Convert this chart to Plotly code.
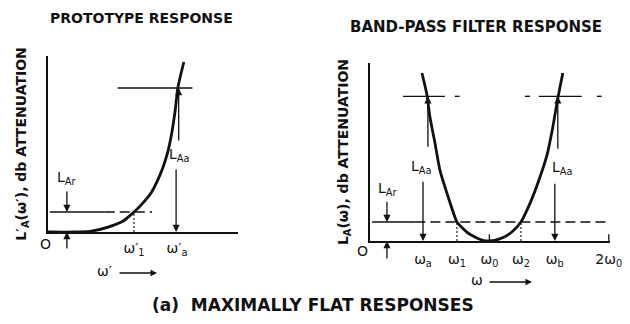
import plotly.graph_objects as go

# ---------------- data ----------------
# Prototype (low-pass) response: omega' normalised so omega'_1 = 1, attenuation in dB
proto_w = [0.0, 0.31, 0.49, 0.69, 0.87, 1.00, 1.10, 1.20, 1.28, 1.34, 1.395, 1.44, 1.48, 1.51, 1.58]
proto_L = [0.0, 0.0, 0.1, 0.7, 1.6, 3.0, 4.3, 5.9, 7.9, 9.8, 12.1, 14.9, 18.3, 21.6, 25.5]
proto_Lar = 3.0
proto_Laa = 21.6

# Band-pass response: omega normalised so omega_0 = 1
bp_w = [0.435, 0.477, 0.502, 0.544, 0.586, 0.644, 0.711, 0.728, 0.820, 0.937, 1.0,
        1.105, 1.188, 1.264, 1.339, 1.406, 1.481, 1.531, 1.573, 1.615]
bp_L = [25.2, 21.9, 18.6, 14.7, 10.6, 7.2, 3.6, 2.85, 1.2, 0.15, 0.0,
        0.45, 1.35, 2.85, 5.6, 8.7, 12.8, 17.1, 21.4, 25.2]
bp_Lar = 2.85
bp_Laa = 21.7

# prototype tick values / labels
proto_ticks = [1.0, 1.5]
proto_ticktext = ["ω′<sub>1</sub>", "ω′<sub>a</sub>"]

# band-pass tick values / labels
bp_ticks = [0.444, 0.728, 1.0, 1.264, 1.548, 2.0]
bp_ticktext = ["ω<sub>a</sub>", "ω<sub>1</sub>", "ω<sub>0</sub>", "ω<sub>2</sub>",
               "ω<sub>b</sub>", "2ω<sub>0</sub>"]

# reference-line extents (x from, x to)
proto_Lar_solid = [0.02, 0.66]
proto_Lar_dash = [0.66, 1.21]
proto_Laa_line = [0.81, 1.68]
bp_Lar_solid = [0.017, 0.38]
bp_Lar_dash = [0.38, 1.98]
bp_Laa_left = [0.276, 0.628]
bp_Laa_left_dash = [0.71, 0.75]
bp_Laa_right_dash1 = [1.297, 1.339]
bp_Laa_right = [1.414, 1.774]
bp_Laa_right_dash2 = [1.90, 1.94]
bp_small_ticks = [1.0, 2.0]
tick_height = 1.0

INK = "#111111"
FONT = "DejaVu Sans"
W, H = 630, 324

def px(x):
    return x / W

def py(y):
    return 1 - y / H

fig = go.Figure()

def seg(xs, ys, xa, ya, width=1.4, dash="solid"):
    fig.add_trace(go.Scatter(x=xs, y=ys, xaxis=xa, yaxis=ya, mode="lines",
                             line=dict(color=INK, width=width, dash=dash),
                             hoverinfo="skip", showlegend=False))

# ---------- left panel ----------
fig.add_trace(go.Scatter(x=proto_w, y=proto_L, xaxis="x", yaxis="y", mode="lines",
                         line=dict(color=INK, width=2.8, shape="spline", smoothing=0.7),
                         showlegend=False, hoverinfo="skip"))
seg(proto_Lar_solid, [proto_Lar, proto_Lar], "x", "y")
seg(proto_Lar_dash, [proto_Lar, proto_Lar], "x", "y", dash="10px,5px")
seg(proto_Laa_line, [proto_Laa, proto_Laa], "x", "y")
seg([proto_ticks[0], proto_ticks[0]], [0, proto_Lar], "x", "y", width=1.1, dash="2px,2px")

# ---------- right panel ----------
fig.add_trace(go.Scatter(x=bp_w, y=bp_L, xaxis="x2", yaxis="y2", mode="lines",
                         line=dict(color=INK, width=2.8, shape="spline", smoothing=0.7),
                         showlegend=False, hoverinfo="skip"))
seg(bp_Lar_solid, [bp_Lar, bp_Lar], "x2", "y2")
seg(bp_Lar_dash, [bp_Lar, bp_Lar], "x2", "y2", dash="10px,5px")
for s in (bp_Laa_left, bp_Laa_left_dash, bp_Laa_right_dash1, bp_Laa_right, bp_Laa_right_dash2):
    seg(s, [bp_Laa, bp_Laa], "x2", "y2")
for t in (bp_ticks[1], bp_ticks[3]):
    seg([t, t], [0, bp_Lar], "x2", "y2", width=1.1, dash="2px,2px")
for t in bp_small_ticks:
    seg([t, t], [0, tick_height], "x2", "y2", width=1.3)

ann = []

def arrow(x, y, ax, ay, xr, yr):
    ann.append(dict(x=x, y=y, ax=ax, ay=ay, xref=xr, yref=yr, axref=xr, ayref=yr,
                    text="", showarrow=True, arrowhead=2, arrowsize=1.1,
                    arrowwidth=1.3, arrowcolor=INK, standoff=0, startstandoff=0))

def parrow(x0, x1, y):
    # horizontal arrow in paper space (tail at x0, head at x1), pixel coords
    ann.append(dict(x=px(x1), y=py(y), xref="paper", yref="paper", ax=-(x1 - x0), ay=0,
                    text="", showarrow=True, arrowhead=2, arrowsize=1.0,
                    arrowwidth=1.3, arrowcolor=INK, standoff=0, startstandoff=0))

def label(x, y, text, xr, yr, size=14, bold=False):
    ann.append(dict(x=x, y=y, xref=xr, yref=yr, text=text, showarrow=False,
                    xanchor="center", yanchor="middle",
                    font=dict(family=FONT, size=size, color=INK,
                              weight="bold" if bold else "normal")))

# left arrows
arrow(0.22, proto_Lar, 0.22, 6.3, "x", "y")
arrow(0.22, 0.0, 0.22, -2.7, "x", "y")
arrow(1.52, proto_Laa, 1.52, 13.5, "x", "y")
arrow(1.49, 0.0, 1.49, 9.6, "x", "y")
label(0.22, 8.1, "L<sub>Ar</sub>", "x", "y")
label(1.53, 11.6, "L<sub>Aa</sub>", "x", "y")
label(px(45), py(244), "O", "paper", "paper")
label(px(104), py(271), "ω′", "paper", "paper")
parrow(118, 157, 273)

# right arrows
arrow(0.142, bp_Lar, 0.142, 6.1, "x2", "y2")
arrow(0.142, 0.0, 0.142, -2.85, "x2", "y2")
arrow(0.485, bp_Laa, 0.485, 13.9, "x2", "y2")
arrow(0.444, 0.0, 0.444, 9.1, "x2", "y2")
arrow(1.573, bp_Laa, 1.573, 13.6, "x2", "y2")
arrow(1.548, 0.0, 1.548, 8.8, "x2", "y2")
label(0.15, 7.8, "L<sub>Ar</sub>", "x2", "y2")
label(0.43, 11.1, "L<sub>Aa</sub>", "x2", "y2")
label(1.61, 10.9, "L<sub>Aa</sub>", "x2", "y2")
label(px(363), py(251), "O", "paper", "paper")
label(px(477), py(280), "ω", "paper", "paper")
parrow(488, 532, 282)

# titles
label(px(141), py(18), "PROTOTYPE RESPONSE", "paper", "paper", size=14, bold=True)
label(px(476), py(27), "BAND-PASS FILTER RESPONSE", "paper", "paper", size=15, bold=True)
label(px(313), py(305), "(a)  MAXIMALLY FLAT RESPONSES", "paper", "paper", size=17, bold=True)

axis_common = dict(showline=True, linewidth=2, linecolor=INK, showgrid=False,
                   zeroline=False, mirror=False, ticks="", automargin=False,
                   fixedrange=True)

fig.update_layout(
    width=W, height=H, margin=dict(l=0, r=0, t=0, b=0),
    paper_bgcolor="white", plot_bgcolor="white", showlegend=False,
    xaxis=dict(domain=[px(48), px(238)], range=[0, 2.21], anchor="y",
               tickmode="array", tickvals=proto_ticks, ticktext=proto_ticktext,
               tickfont=dict(family=FONT, size=14, color=INK), ticklabelstandoff=2,
               **axis_common),
    yaxis=dict(domain=[py(232), py(56)], range=[0, 26.4], anchor="x",
               showticklabels=False,
               title=dict(text="L′<sub>A</sub>(ω′), db ATTENUATION", standoff=16,
                          font=dict(family=FONT, size=14, color=INK, weight="bold")),
               **axis_common),
    xaxis2=dict(domain=[px(370), px(610)], range=[0, 2.01], anchor="y2",
                tickmode="array", tickvals=bp_ticks, ticktext=bp_ticktext,
                tickfont=dict(family=FONT, size=14, color=INK), ticklabelstandoff=4,
                **axis_common),
    yaxis2=dict(domain=[py(241), py(63)], range=[0, 26.7], anchor="x2",
                showticklabels=False,
                title=dict(text="L<sub>A</sub>(ω), db ATTENUATION", standoff=16,
                           font=dict(family=FONT, size=14, color=INK, weight="bold")),
                **axis_common),
    annotations=ann,
)

fig.write_html("out.html", config={"displayModeBar": False},
               post_script="document.body.style.margin='0';")
